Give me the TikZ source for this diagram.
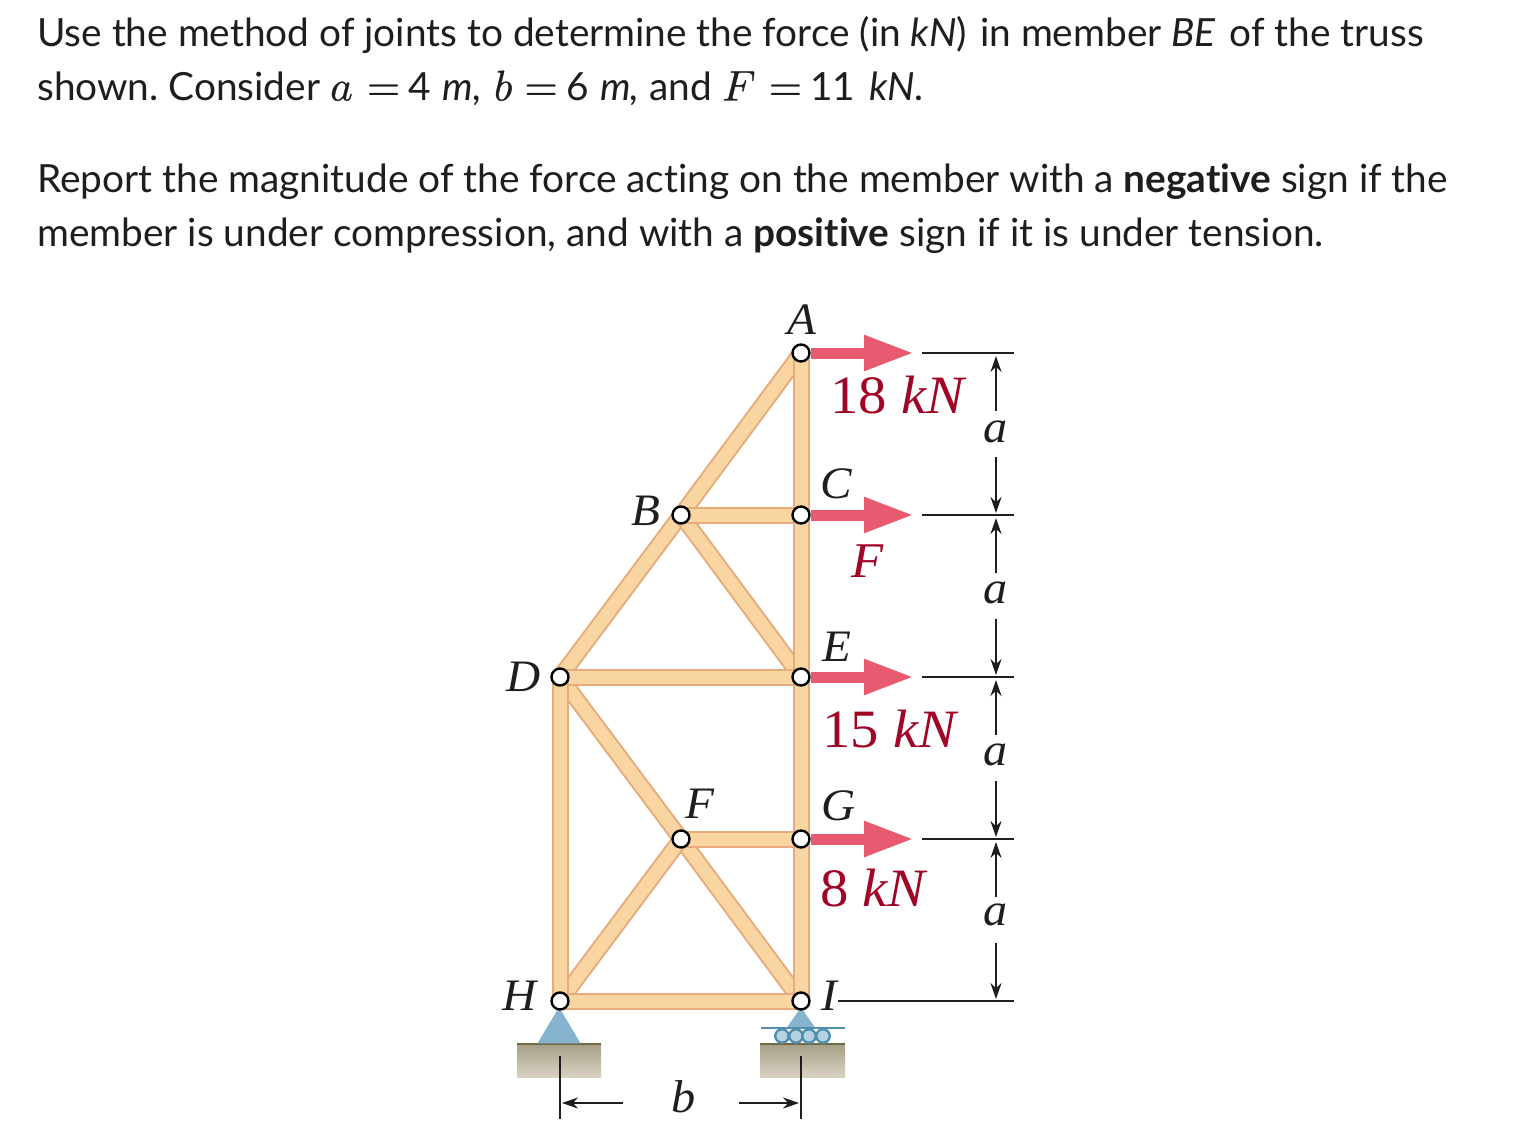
\documentclass[tikz,border=0pt]{standalone}
\usepackage{fontspec}
\setmainfont[Ligatures=NoCommon,Contextuals=NoAlternate]{Lato}
\newfontfamily\labf[FakeStretch=1.05]{Liberation Serif}
\newfontfamily\mathf[FakeBold=0.6]{Latin Modern Math}
\usetikzlibrary{arrows.meta,backgrounds}
\definecolor{woodedge}{HTML}{E8AC7C}
\definecolor{woodfill}{HTML}{F9D5A2}
\definecolor{redarrow}{HTML}{E85A70}
\definecolor{redtext}{HTML}{A00525}
\definecolor{supportblue}{HTML}{86B4CE}
\definecolor{supportedge}{HTML}{4F8FB0}
\definecolor{groundtop}{HTML}{A69F87}
\definecolor{groundbot}{HTML}{D9D2C2}
\definecolor{groundline}{HTML}{6E6A45}
\definecolor{inkc}{HTML}{1E1E1E}
\pgfdeclarelayer{bg}
\pgfsetlayers{bg,main}
\newcommand{\mth}[1]{{\mathf\fontsize{43}{45}\selectfont #1}}
\tikzset{
  x=1pt,y=-1pt,
  joint/.style={circle,draw=black,fill=white,line width=2.4pt,minimum size=17pt,inner sep=0pt},
  para/.style={anchor=base west,inner sep=0pt,font=\fontsize{38.8}{45}\selectfont\frenchspacing,text=inkc},
  joint label/.style={inner sep=0pt,font=\labf\itshape\fontsize{45}{50}\selectfont,text=inkc},
  dim label/.style={inner sep=0pt,font=\labf\itshape\fontsize{46}{50}\selectfont,text=inkc},
  load label/.style={anchor=base west,inner sep=0pt,font=\labf\fontsize{54}{60}\selectfont,text=redtext},
  load/.style={line width=11pt,draw=redarrow,-{Triangle[length=50pt,width=33pt]}},
  ext/.style={line width=2.2pt,draw=inkc},
  dimarrow/.style={line width=2.4pt,draw=inkc,-{Stealth[length=16pt,width=11pt]}},
  support/.style={fill=supportblue,draw=supportblue,line width=.6pt},
  ground/.style={top color=groundtop,bottom color=groundbot,draw=none},
  roller/.style={circle,draw=supportedge,fill=supportblue!60,line width=2.4pt,minimum size=13.5pt,inner sep=0pt},
}
\newcommand{\memberpath}[3][]{%
  \draw[woodedge,line width=17pt,#1] (#2.center) -- (#3.center);
}
\newcommand{\memberfill}[3][]{%
  \draw[woodfill,line width=13pt,#1] (#2.center) -- (#3.center);
}
\begin{document}
\begin{tikzpicture}
\useasboundingbox (0,0) rectangle (1516,1134);
\begin{pgfonlayer}{bg}
\fill[white] (0,0) rectangle (1516,1134);
\end{pgfonlayer}

% statement
\node[para] (l1) at (37,46.5) {Use the method of joints to determine the force (in {\itshape kN})\kern3pt\ in member {\itshape BE}\kern4pt\ of the truss};
\node[para] (l2) at (37,100.5) {shown. Consider \mth{𝑎}\kern14pt\mth{=}\kern8pt 4 \kern2pt{\itshape m,} \kern2pt\mth{𝑏}\kern12pt\mth{=}\kern9pt 6 \kern1pt{\itshape m,} and \mth{𝐹}\kern19pt\mth{=}\kern8pt 11 \kern4pt{\itshape kN.}};
\node[para] (l3) at (37,192.5) {Report the magnitude of the force acting on the member with a \textbf{negative} sign if the};
\node[para] (l4) at (37,246.5) {member is under compression, and with a \textbf{positive} sign if it is under tension.};

% joints
\node[joint] (A) at (801,353) {};
\node[joint] (B) at (681,515) {};
\node[joint] (C) at (801,515) {};
\node[joint] (D) at (560,677) {};
\node[joint] (E) at (801,677) {};
\node[joint] (F) at (681,839) {};
\node[joint] (G) at (801,839) {};
\node[joint] (H) at (560,1001) {};
\node[joint] (I) at (801,1001) {};

% members and supports beneath the joints
\begin{pgfonlayer}{bg}
  \foreach \p/\q in {A/B,B/D,B/E,D/F,F/I,F/H}{\memberpath{\p}{\q}\memberfill{\p}{\q}}
  \foreach \p/\q in {B/C,F/G}{\memberpath{\p}{\q}\memberfill{\p}{\q}}
  \memberpath[line cap=square]{D}{E}\memberfill{D}{E}
  \memberpath[line cap=square]{H}{I}\memberfill{H}{I}
  \memberpath[line cap=square]{D}{H}\memberfill{D}{H}
  \memberpath{A}{C}\memberfill{A}{C}
  \memberpath{C}{E}\memberfill{C}{E}
  \memberpath{E}{G}\memberfill{E}{G}
  \memberpath[line cap=square]{G}{I}\memberfill{G}{I}
  % supports
  \fill[ground] (517,1044) rectangle (601,1077);
  \draw[groundline,line width=1.6pt] (517,1044) -- (601,1044);
  \fill[ground] (760,1044) rectangle (845,1077);
  \draw[groundline,line width=1.6pt] (760,1044) -- (845,1044);
  \fill[support] (559,1008) -- (580,1043) -- (538,1043) -- cycle;
  \fill[support] (801,1008) -- (815,1028) -- (787,1028) -- cycle;
\end{pgfonlayer}

% rollers
\node[roller] (r1) at (782,1036) {};
\node[roller] (r2) at (796,1036) {};
\node[roller] (r3) at (809,1036) {};
\node[roller] (r4) at (823,1036) {};
\coordinate (rl) at (761,1028);
\coordinate (rr) at (845,1028);
\draw[supportedge,line width=1.8pt] (rl) -- (rr);

% loads
\foreach \j/\y in {A/353,C/515,E/677,G/839}{
  \coordinate (t\j) at (914,\y);
  \draw[load] (\j.east) -- (t\j);
}
\node[load label] (lA) at (830,413) {18 {\itshape kN}};
\node[load label,font=\labf\itshape\fontsize{50}{60}\selectfont] (lC) at (851,577) {F};
\node[load label] (lE) at (822,747) {15 {\itshape kN}};
\node[load label] (lG) at (820,906) {8 {\itshape kN}};

% joint labels
\node[joint label] (nA) at (802,320) {A};
\node[joint label] (nB) at (646,511) {B};
\node[joint label] (nC) at (836,484) {C};
\node[joint label] (nD) at (524,677) {D};
\node[joint label] (nE) at (837,647) {E};
\node[joint label] (nF) at (700,804) {F};
\node[joint label] (nG) at (839,806) {G};
\node[joint label] (nH) at (520,996) {H};
\node[joint label] (nI) at (829,996) {I};

% vertical dimensions
\foreach \n/\y in {1/353,2/515,3/677,4/839}{
  \coordinate (ea\n) at (922,\y);
  \coordinate (eb\n) at (1014,\y);
  \draw[ext] (ea\n) -- (eb\n);
}
\coordinate (ea5) at (838,1001);
\coordinate (eb5) at (1014,1001);
\draw[ext] (ea5) -- (eb5);
\foreach \n/\ya/\yb/\yc/\yd/\yl in {1/411/356/457/513/432,2/573/518/619/675/593,3/735/680/781/837/755,4/897/842/943/999/915}{
  \node[dim label] (a\n) at (996,\yl) {a};
  \coordinate (ua\n) at (996,\ya);
  \coordinate (ub\n) at (996,\yb);
  \coordinate (da\n) at (996,\yc);
  \coordinate (db\n) at (996,\yd);
  \draw[dimarrow] (ua\n) -- (ub\n);
  \draw[dimarrow] (da\n) -- (db\n);
}

% horizontal dimension
\coordinate (v1a) at (560,1056);
\coordinate (v1b) at (560,1119);
\coordinate (v2a) at (801,1056);
\coordinate (v2b) at (801,1119);
\draw[ext] (v1a) -- (v1b);
\draw[ext] (v2a) -- (v2b);
\node[dim label] (nb) at (684,1097) {b};
\coordinate (ba) at (623,1103);
\coordinate (bb) at (562,1103);
\coordinate (bc) at (739,1103);
\coordinate (bd) at (799,1103);
\draw[dimarrow] (ba) -- (bb);
\draw[dimarrow] (bc) -- (bd);
\end{tikzpicture}
\end{document}
